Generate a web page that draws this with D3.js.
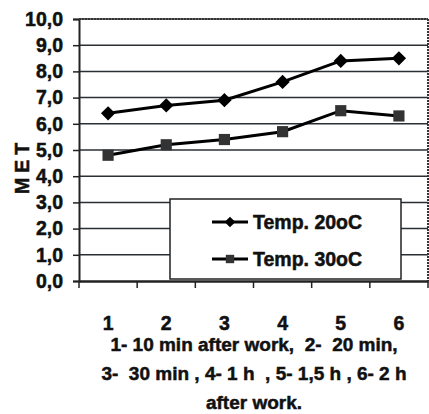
<!DOCTYPE html>
<html>
<head>
<meta charset="utf-8">
<script src="https://cdn.jsdelivr.net/npm/d3@7"></script>
<style>
  body { margin: 0; background: #fff; }
  text { font-family: "Liberation Sans", Arial, sans-serif; font-weight: bold; fill: #111; stroke: #111; stroke-width: 0.5px; white-space: pre; }
</style>
</head>
<body>
<div id="chart-area"></div>
<script>
// data
var categories = ['1', '2', '3', '4', '5', '6'];
var temp20 = [6.4, 6.7, 6.9, 7.6, 8.4, 8.5];
var temp30 = [4.8, 5.2, 5.4, 5.7, 6.5, 6.3];
var yTicks = [0, 1, 2, 3, 4, 5, 6, 7, 8, 9, 10];
var seriesNames = ['Temp. 20oC', 'Temp. 30oC'];
var noteLines = ['1- 10 min after work,  2-  20 min,', '3-  30 min , 4- 1 h  , 5- 1,5 h , 6- 2 h', 'after work.'];

var margin = {left: 79, right: 1, top: 19, bottom: 133};
var width = 429 - margin.left - margin.right;
var height = 414 - margin.top - margin.bottom;

var svg = d3.select('#chart-area')
  .append('svg')
  .attr('width', 429)
  .attr('height', 414);

var g = svg.append('g')
  .attr('transform', 'translate(' + margin.left + ', ' + margin.top + ')');

var x = d3.scaleBand()
  .domain(categories)
  .range([0, width]);

var y = d3.scaleLinear()
  .domain([0, 10])
  .range([height, 0]);

// gridlines
g.selectAll('.grid')
  .data(yTicks.slice(1))
  .enter()
  .append('line')
  .attr('x1', 0)
  .attr('x2', width)
  .attr('y1', function (d) { return y(d); })
  .attr('y2', function (d) { return y(d); })
  .attr('stroke', '#2a2f33')
  .attr('stroke-width', 1.5);

// right border
g.append('line')
  .attr('x1', width).attr('x2', width)
  .attr('y1', 0).attr('y2', height)
  .attr('stroke', '#333')
  .attr('stroke-width', 2)
  .attr('stroke-dasharray', '2,1');

// y axis
var yAxisCall = d3.axisLeft(y)
  .tickValues(yTicks)
  .tickSize(6)
  .tickPadding(10)
  .tickFormat(function (d) { return d3.format('.1f')(d).replace('.', ','); });
var yAxis = g.append('g')
  .attr('class', 'y-axis')
  .call(yAxisCall);
yAxis.select('.domain').attr('stroke', '#222').attr('stroke-width', 2);
yAxis.selectAll('.tick line').attr('stroke', '#222').attr('stroke-width', 1.5);
yAxis.selectAll('text')
  .attr('font-size', '19.5px')
  .attr('font-family', '"Liberation Sans", Arial, sans-serif')
  .attr('font-weight', 'bold')
  .attr('fill', '#111');

// x axis: ticks on the band edges
var xAxisCall = d3.axisBottom(x)
  .tickSize(0)
  .tickPadding(35);
var xAxis = g.append('g')
  .attr('class', 'x-axis')
  .attr('transform', 'translate(0, ' + height + ')')
  .call(xAxisCall);
xAxis.select('.domain').attr('stroke', '#222').attr('stroke-width', 2.5);
xAxis.selectAll('text')
  .attr('font-size', '19.5px')
  .attr('font-family', '"Liberation Sans", Arial, sans-serif')
  .attr('font-weight', 'bold')
  .attr('fill', '#111');
xAxis.selectAll('.edge')
  .data(categories.map(function (c) { return x(c); }).concat([width]))
  .enter()
  .append('line')
  .attr('x1', function (d) { return d; })
  .attr('x2', function (d) { return d; })
  .attr('y1', 0)
  .attr('y2', 7)
  .attr('stroke', '#222')
  .attr('stroke-width', 1.5);

// top border
g.append('line')
  .attr('x1', 0).attr('x2', width)
  .attr('y1', 0).attr('y2', 0)
  .attr('stroke', '#333')
  .attr('stroke-width', 2)
  .attr('stroke-dasharray', '2,1');

// y title
svg.append('text')
  .attr('transform', 'translate(29, 166) rotate(-90)')
  .attr('text-anchor', 'middle')
  .attr('font-size', '19.5px')
  .attr('letter-spacing', '5px')
  .text('MET');

var line = d3.line()
  .x(function (d, i) { return x(categories[i]) + x.bandwidth() / 2; })
  .y(function (d) { return y(d); });

var diamond = d3.symbol().type(d3.symbolDiamond2).size(130);
var square = d3.symbol().type(d3.symbolSquare).size(125);

function drawSeries(values, sym) {
  g.append('path')
    .datum(values)
    .attr('d', line)
    .attr('fill', 'none')
    .attr('stroke', '#000')
    .attr('stroke-width', 3);
  g.selectAll(null)
    .data(values)
    .enter()
    .append('path')
    .attr('d', sym)
    .attr('transform', function (d, i) {
      return 'translate(' + (x(categories[i]) + x.bandwidth() / 2) + ',' + y(d) + ')';
    })
    .attr('fill', sym === diamond ? '#000' : '#333');
}
drawSeries(temp20, diamond);
drawSeries(temp30, square);

// legend
var legend = svg.append('g').attr('transform', 'translate(170, 199)');
legend.append('rect')
  .attr('width', 231)
  .attr('height', 80)
  .attr('fill', '#fff')
  .attr('stroke', '#222')
  .attr('stroke-width', 1.5);
seriesNames.forEach(function (name, i) {
  var ly = 23 + i * 37;
  legend.append('line')
    .attr('x1', 42).attr('x2', 78)
    .attr('y1', ly).attr('y2', ly)
    .attr('stroke', '#000')
    .attr('stroke-width', 3);
  legend.append('path')
    .attr('d', i === 0 ? diamond : square)
    .attr('transform', 'translate(60,' + ly + ') scale(0.75)')
    .attr('fill', i === 0 ? '#000' : '#333');
  legend.append('text')
    .attr('x', 83)
    .attr('y', ly + 7)
    .attr('font-size', '19.5px')
    .text(name);
});

// note under the axis
svg.selectAll('.note')
  .data(noteLines)
  .enter()
  .append('text')
  .attr('x', 254)
  .attr('y', function (d, i) { return 351 + i * 29; })
  .attr('text-anchor', 'middle')
  .attr('font-size', '19px')
  .text(function (d) { return d; });
</script>
</body>
</html>
